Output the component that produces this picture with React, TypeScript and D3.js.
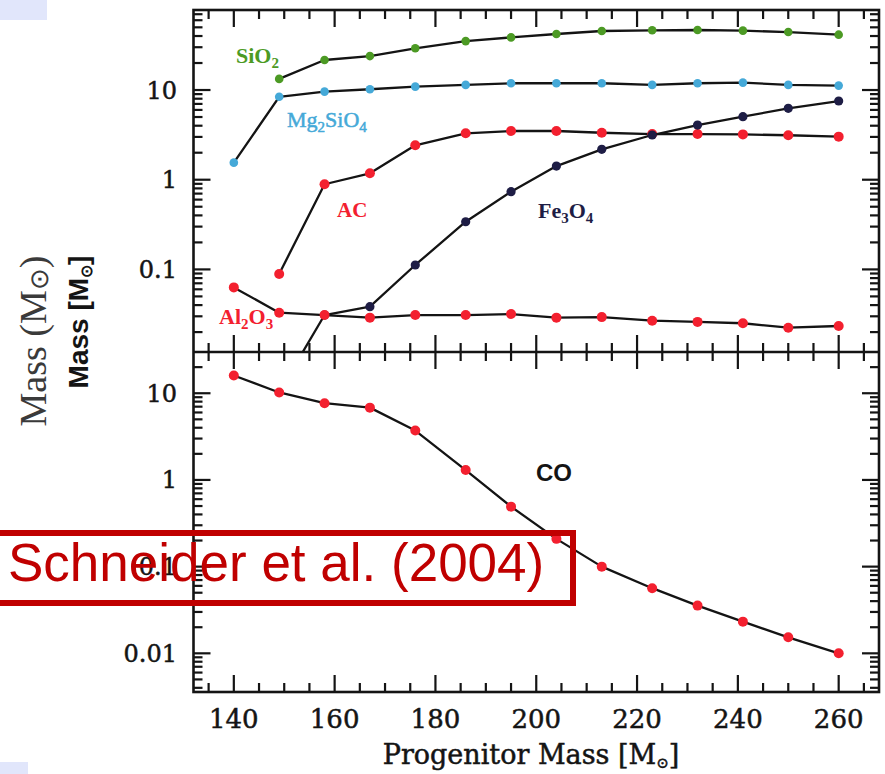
import React from "react";
import * as d3 from "d3";

// Progenitor masses of the models (M_sun)
const masses = [140, 149, 158, 167, 176, 186, 195, 204, 213, 223, 232, 241, 250, 260];

// Dust masses (M_sun) per species, upper panel
const sio2 = [null, 13.3, 21.6, 23.9, 29.2, 35.1, 38.6, 42.1, 45.5, 46.3, 46.7, 45.9, 44.3, 41.4];
const mg2sio4 = [1.55, 8.4, 9.6, 10.2, 10.9, 11.4, 11.9, 11.9, 11.9, 11.4, 11.9, 12.1, 11.4, 11.2];
const ac = [null, 0.089, 0.89, 1.18, 2.42, 3.29, 3.49, 3.49, 3.34, 3.23, 3.23, 3.2, 3.13, 3.02];
const fe3o4 = [null, 0.0043, 0.031, 0.0384, 0.112, 0.34, 0.735, 1.42, 2.18, 3.15, 4.07, 5.04, 6.25, 7.54];
const al2o3 = [0.063, 0.0329, 0.031, 0.029, 0.031, 0.031, 0.0318, 0.029, 0.0294, 0.0268, 0.026, 0.0251, 0.0224, 0.0234];

// CO mass (M_sun), lower panel
const co = [16.0, 10.2, 7.67, 6.82, 3.71, 1.3, 0.492, 0.209, 0.1, 0.0564, 0.0355, 0.0232, 0.0153, 0.01];

// Axis tick labels
const xTickLabels = [140, 160, 180, 200, 220, 240, 260];
const yTopLabels = [10, 1, 0.1];
const yBotLabels = [10, 1, 0.1, 0.01];

const W = 885;
const H = 774;
const L = 193.5;
const R = 879;
const T = 10;
const M = 352;
const B = 692;

const x = d3.scaleLinear().domain([132, 268]).range([L, R]);
const yTop = d3.scaleLog().domain([0.012, 78]).range([M, T]);
const yBot = d3.scaleLog().domain([0.00358, 29.9]).range([B, M]);

const INK = "#141414";
const GREEN = "#4c9a24";
const CYAN = "#45a9d8";
const RED = "#f3202f";
const NAVY = "#1e1d45";

type Series = { values: (number | null)[]; color: string; r: number };

const topSeries: Series[] = [
  { values: sio2, color: GREEN, r: 4.3 },
  { values: mg2sio4, color: CYAN, r: 4.3 },
  { values: ac, color: RED, r: 5 },
  { values: fe3o4, color: NAVY, r: 4.6 },
  { values: al2o3, color: RED, r: 5 },
];

function logTicks(scale: d3.ScaleLogarithmic<number, number>) {
  const dom = scale.domain();
  const lo = Math.min(dom[0], dom[1]);
  const hi = Math.max(dom[0], dom[1]);
  const out: { v: number; major: boolean }[] = [];
  for (let k = -4; k <= 3; k++) {
    for (let m = 1; m <= 9; m++) {
      const v = m * Math.pow(10, k);
      if (v >= lo && v <= hi) out.push({ v, major: m === 1 });
    }
  }
  return out;
}

const xMinor = d3.range(135, 268, 5);

// Text made of normal and subscript runs, e.g. "SiO" + sub "2"
type Run = [string, boolean];
function runs(parts: Run[], subSize: number, shift: number) {
  let level = 0;
  return parts.map(([t, sub], i) => {
    const target = sub ? shift : 0;
    const dy = target - level;
    level = target;
    return (
      <tspan key={i} dy={dy} fontSize={sub ? subSize : undefined}>
        {t}
      </tspan>
    );
  });
}

function SeriesPath({ s, y }: { s: Series; y: d3.ScaleLogarithmic<number, number> }) {
  const pts = masses.map((m, i) => [m, s.values[i]] as [number, number | null]);
  const line = d3
    .line<[number, number | null]>()
    .defined((d) => d[1] != null)
    .x((d) => x(d[0]))
    .y((d) => y(d[1] as number));
  return (
    <g>
      <path d={line(pts) || ""} fill="none" stroke={INK} strokeWidth={2.3} strokeLinejoin="round" />
      {pts
        .filter((d) => d[1] != null)
        .map((d, i) => (
          <circle key={i} cx={x(d[0])} cy={y(d[1] as number)} r={s.r} fill={s.color} />
        ))}
    </g>
  );
}

function yTickLines(scale: d3.ScaleLogarithmic<number, number>, tag: string) {
  const out: React.ReactElement[] = [];
  logTicks(scale).forEach((t, i) => {
    const yy = scale(t.v);
    const len = t.major ? 17 : 9;
    out.push(<line key={tag + "l" + i} x1={L} x2={L + len} y1={yy} y2={yy} stroke={INK} strokeWidth={2.2} />);
    out.push(<line key={tag + "r" + i} x1={R} x2={R - len} y1={yy} y2={yy} stroke={INK} strokeWidth={2.2} />);
  });
  return out;
}

function xTickLines(y0: number, dir: number, tag: string) {
  return xMinor.map((v) => {
    const len = v % 20 === 0 ? 17 : 9;
    return (
      <line key={tag + v} x1={x(v)} x2={x(v)} y1={y0} y2={y0 + dir * len} stroke={INK} strokeWidth={2.2} />
    );
  });
}

export default function App() {
  const tickFont = { fontFamily: "'DejaVu Serif', serif", fill: INK, stroke: INK, strokeWidth: 0.5 } as const;
  const labelFont = { fontFamily: "'Liberation Serif', serif", fontWeight: 700, fontSize: 22 } as const;
  return (
    <svg
      width={W}
      height={H}
      viewBox={`0 0 ${W} ${H}`}
      style={{ position: "absolute", left: 0, top: 0, background: "#fff" }}
    >
      <defs>
        <clipPath id="clipTop">
          <rect x={L} y={T} width={R - L} height={M - T} />
        </clipPath>
        <clipPath id="clipBot">
          <rect x={L} y={M} width={R - L} height={B - M} />
        </clipPath>
      </defs>

      {/* slide decorations */}
      <rect x={0} y={0} width={47} height={20} fill="#e1e6fb" />
      <rect x={0} y={762} width={28} height={12} fill="#e1e6fb" />

      {/* ticks */}
      <g>
        {yTickLines(yTop, "t")}
        {yTickLines(yBot, "b")}
        {xTickLines(T, 1, "a")}
        {xTickLines(M, -1, "m1")}
        {xTickLines(M, 1, "m2")}
        {xTickLines(B, -1, "z")}
      </g>

      {/* frame */}
      <rect x={L} y={T} width={R - L} height={B - T} fill="none" stroke={INK} strokeWidth={2.6} />
      <line x1={L} x2={R} y1={M} y2={M} stroke={INK} strokeWidth={2.6} />

      {/* data */}
      <g clipPath="url(#clipTop)">
        {topSeries.map((s, i) => (
          <SeriesPath key={i} s={s} y={yTop} />
        ))}
      </g>
      <g clipPath="url(#clipBot)">
        <SeriesPath s={{ values: co, color: RED, r: 5 }} y={yBot} />
      </g>

      {/* y tick labels */}
      <g {...tickFont} fontSize={24} textAnchor="end">
        {yTopLabels.map((v) => (
          <text key={"t" + v} x={177} y={yTop(v) + 8.5}>
            {String(v)}
          </text>
        ))}
        {yBotLabels.map((v) => (
          <text key={"b" + v} x={177} y={yBot(v) + 8.5}>
            {String(v)}
          </text>
        ))}
      </g>

      {/* x tick labels */}
      <g {...tickFont} fontSize={26} textAnchor="middle">
        {xTickLabels.map((v) => (
          <text key={v} x={x(v)} y={728}>
            {v}
          </text>
        ))}
      </g>

      {/* species labels */}
      <text {...labelFont} x={236} y={63} fill={GREEN}>
        {runs([["SiO", false], ["2", true]], 15, 5)}
      </text>
      <text {...labelFont} fontWeight={400} x={287} y={127} fill={CYAN} stroke={CYAN} strokeWidth={0.5}>
        {runs([["Mg", false], ["2", true], ["SiO", false], ["4", true]], 15, 5)}
      </text>
      <text {...labelFont} fontSize={21} x={337} y={217} fill={RED}>
        AC
      </text>
      <text {...labelFont} x={538} y={218} fill={NAVY}>
        {runs([["Fe", false], ["3", true], ["O", false], ["4", true]], 15, 5)}
      </text>
      <text {...labelFont} x={219} y={324} fill={RED}>
        {runs([["Al", false], ["2", true], ["O", false], ["3", true]], 15, 5)}
      </text>
      <text x={536} y={481} fontFamily="'Liberation Sans', sans-serif" fontWeight={700} fontSize={24} fill={INK}>
        CO
      </text>

      {/* axis titles */}
      <text {...tickFont} fontSize={27} textAnchor="middle" x={531} y={764}>
        {runs([["Progenitor Mass [M", false], ["⊙", true], ["]", false]], 15, 4)}
      </text>
      <text
        transform="translate(88,322) rotate(-90)"
        textAnchor="middle"
        fontFamily="'Liberation Sans', sans-serif"
        fontWeight={700}
        fontSize={28}
        fill={INK}
      >
        {runs([["Mass [M", false], ["⊙", true], ["]", false]], 16, 4)}
      </text>
      <text
        transform="translate(46,341) rotate(-90)"
        textAnchor="middle"
        fontFamily="'Liberation Serif', serif"
        fontSize={38}
        fill="#3a3a3a"
      >
        {runs([["Mass (M", false], ["⊙", true], [")", false]], 26, 2)}
      </text>

      {/* citation box */}
      <rect x={-4} y={533} width={577} height={70} fill="none" stroke="#c00000" strokeWidth={6} />
      <text x={8} y={581} fontFamily="'Liberation Sans', Arial, sans-serif" fontSize={53} fill="#c00000">
        Schneider et al. (2004)
      </text>
    </svg>
  );
}
